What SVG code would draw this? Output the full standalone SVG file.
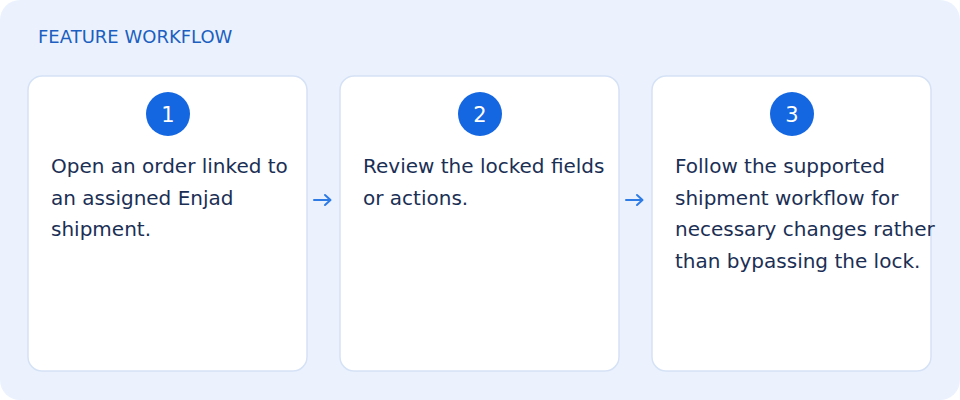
<svg xmlns="http://www.w3.org/2000/svg" width="960" height="400" viewBox="0 0 960 400">
<style>
.bg{fill:#ebf2fe}
.card{fill:#ffffff;stroke:#d5e2f6;stroke-width:1.5}
.badge{fill:#1467e1}
.num{font-family:"DejaVu Sans",sans-serif;font-size:21px;fill:#ffffff;text-anchor:middle}
.body{font-family:"DejaVu Sans",sans-serif;font-size:20px;fill:#1b2f55}
.title{font-family:"DejaVu Sans",sans-serif;font-size:18px;fill:#1c5fc0}
.arrow{fill:none;stroke:#2f7be6;stroke-width:2;stroke-linecap:round;stroke-linejoin:round}
</style>
<rect class="bg" x="0" y="0" width="960" height="400" rx="20"/>
<text class="title" x="38" y="43">FEATURE WORKFLOW</text>
<g id="step1">
<rect class="card" x="28" y="76" width="279" height="295" rx="14"/>
<circle class="badge" cx="168" cy="114" r="22"/>
<text class="num" x="168" y="121.5">1</text>
<text class="body" x="51" y="173">Open an order linked to</text>
<text class="body" x="51" y="204.5">an assigned Enjad</text>
<text class="body" x="51" y="236">shipment.</text>
</g>
<g id="step2">
<rect class="card" x="340" y="76" width="279" height="295" rx="14"/>
<circle class="badge" cx="480" cy="114" r="22"/>
<text class="num" x="480" y="121.5">2</text>
<text class="body" x="363" y="173">Review the locked fields</text>
<text class="body" x="363" y="204.5">or actions.</text>
</g>
<g id="step3">
<rect class="card" x="652" y="76" width="279" height="295" rx="14"/>
<circle class="badge" cx="792" cy="114" r="22"/>
<text class="num" x="792" y="121.5">3</text>
<text class="body" x="675" y="173">Follow the supported</text>
<text class="body" x="675" y="204.5">shipment workflow for</text>
<text class="body" x="675" y="236">necessary changes rather</text>
<text class="body" x="675" y="267.5">than bypassing the lock.</text>
</g>
<g id="connectors">
<path class="arrow" d="M314 200 H330 M325 195 L330.5 200 L325 205"/>
<path class="arrow" d="M626 200 H642 M637 195 L642.5 200 L637 205"/>
</g>
</svg>
